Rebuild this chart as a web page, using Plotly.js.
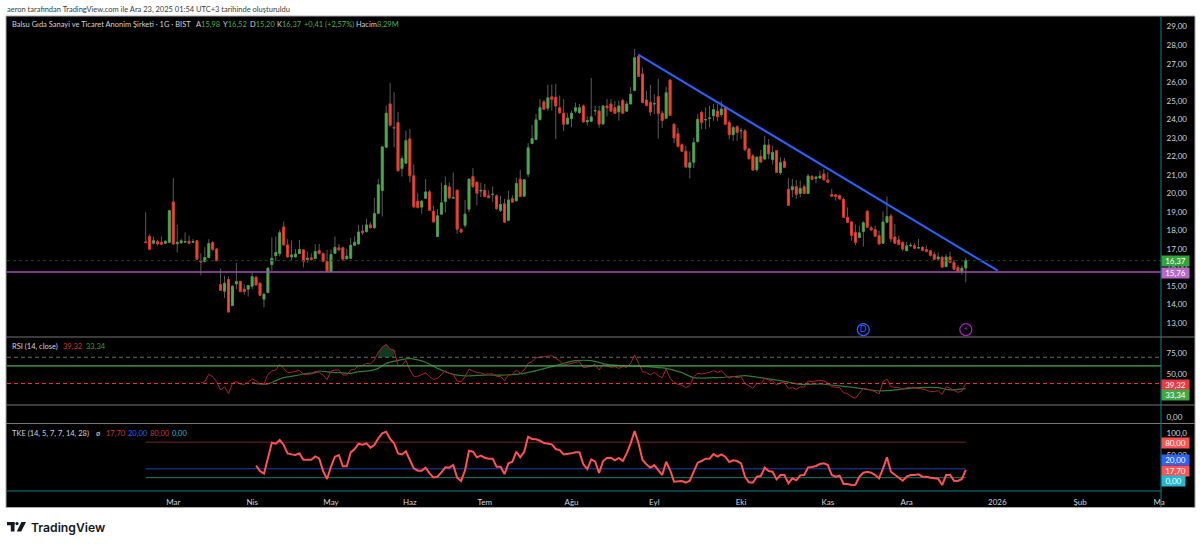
<!DOCTYPE html>
<html><head><meta charset="utf-8">
<script src="https://cdn.plot.ly/plotly-3.0.0.min.js"></script>
<style>html,body{margin:0;padding:0;background:#fff;overflow:hidden}#c{width:1200px;height:545px}</style>
</head><body><div id="c"></div>
<script>
const open=[17.38,17.67,17.31,17.40,17.36,17.31,17.36,19.54,17.29,17.33,
17.37,17.42,17.36,17.44,16.37,16.32,16.54,17.35,17.00,15.08,
14.72,15.35,13.95,15.12,15.24,14.83,14.83,14.99,15.47,15.15,
14.29,14.65,16.16,16.64,16.75,18.19,17.22,16.57,16.57,16.75,
16.95,16.43,16.52,16.48,16.91,16.75,16.34,15.78,16.77,17.06,
17.06,16.47,16.50,17.20,17.27,17.96,17.94,18.30,18.15,18.93,
20.16,22.49,24.83,23.56,23.82,21.34,21.63,22.94,20.95,19.58,
19.26,19.74,20.08,19.04,17.67,18.88,19.56,20.35,19.74,20.17,
18.05,18.28,19.15,20.91,20.60,20.13,20.17,19.87,19.93,19.87,
19.08,19.44,18.55,19.71,19.60,20.77,19.85,21.04,22.69,22.91,
23.99,24.94,24.60,25.21,25.19,24.62,24.33,23.75,24.04,24.44,
24.36,24.72,23.86,23.90,24.45,24.45,23.75,24.72,24.83,24.62,
24.40,25.01,24.44,24.83,25.56,27.39,26.44,25.04,24.91,24.82,
25.22,24.32,24.05,26.12,23.73,23.22,22.63,22.27,21.40,21.68,
22.79,24.37,23.96,24.05,24.19,24.43,24.25,24.61,23.82,23.17,
23.60,23.37,23.38,22.40,22.03,21.28,22.00,21.85,22.61,21.82,
22.30,21.12,21.73,20.22,20.20,20.36,20.00,20.36,20.00,20.92,
20.80,20.83,21.05,20.72,19.93,19.92,19.88,19.67,18.71,18.46,
17.89,17.62,17.94,19.04,18.14,18.05,17.72,17.31,18.44,18.78,
17.65,17.49,17.35,16.91,17.18,17.18,17.05,17.09,16.97,16.90,
16.70,16.46,16.55,16.05,16.57,16.28,16.00,15.80,15.98];
const high=[18.98,17.78,17.67,17.50,17.67,17.45,19.10,20.83,18.30,17.55,
17.90,17.72,17.54,17.49,16.77,17.10,17.53,17.42,17.06,15.94,
15.56,15.51,15.03,16.25,15.30,15.10,15.06,15.73,15.55,15.20,
14.65,16.03,17.63,17.67,18.03,18.48,17.53,17.47,16.99,17.49,
17.00,16.86,16.77,17.26,17.27,16.82,16.95,16.97,17.67,17.27,
17.13,17.00,17.60,17.69,18.30,18.30,18.62,18.44,19.76,20.78,
22.55,24.74,25.95,25.46,24.40,22.04,23.39,23.48,21.56,20.00,
19.65,20.78,20.19,19.33,19.15,20.59,20.91,20.60,21.13,20.21,
18.13,19.65,20.80,21.36,20.66,20.57,20.51,20.16,20.37,19.94,
19.87,19.71,20.14,19.89,20.84,21.27,20.77,22.71,23.70,24.29,
25.10,25.05,25.87,25.87,25.91,25.28,25.10,24.33,24.47,24.90,
24.83,24.80,24.15,26.23,24.72,24.72,24.78,25.10,25.08,24.98,
25.01,25.10,24.98,25.73,27.79,27.48,26.80,25.54,25.85,25.36,
26.19,24.46,25.76,26.15,23.78,23.53,22.70,22.56,22.27,22.99,
24.28,24.46,24.64,24.73,24.82,24.82,25.00,24.70,23.92,23.64,
23.67,23.53,23.47,22.45,22.12,22.02,22.34,23.11,22.93,22.57,
22.34,21.95,21.91,20.83,20.78,20.72,20.69,20.47,21.05,20.99,
20.96,21.23,21.32,21.14,20.24,19.97,19.94,19.79,19.25,18.50,
18.32,18.26,18.50,19.07,18.26,18.26,18.00,19.02,19.83,18.89,
18.35,17.72,17.42,17.38,17.35,17.31,17.54,17.15,17.18,16.95,
16.86,16.82,16.64,16.73,16.86,16.41,16.14,16.10,16.52];
const low=[17.30,16.95,17.24,17.20,17.20,17.27,17.31,17.24,16.81,17.29,
17.33,17.29,17.33,16.41,15.58,16.28,16.50,16.91,16.34,14.76,
14.36,13.57,13.91,14.83,14.67,14.54,14.43,14.83,15.03,14.47,
13.86,14.61,15.83,16.34,16.59,17.18,16.54,16.37,16.54,16.72,
16.00,16.25,16.37,16.45,16.72,16.28,15.74,15.74,16.73,16.91,
16.34,16.43,16.46,17.17,17.24,17.76,17.88,18.12,18.10,18.89,
18.75,22.46,23.61,22.49,21.18,20.91,21.59,20.59,19.24,19.18,
18.90,19.71,19.06,18.43,17.64,18.84,18.97,19.69,19.74,17.82,
17.87,18.14,18.99,20.30,19.36,19.80,19.80,19.72,19.53,19.11,
18.99,18.41,18.52,19.49,19.56,19.80,19.81,20.87,22.66,22.87,
23.93,24.51,24.44,24.47,22.93,24.29,23.36,23.72,23.57,24.33,
24.29,23.82,23.66,23.84,24.20,23.54,23.72,24.15,24.40,24.29,
23.93,24.29,24.40,24.80,25.52,26.28,24.86,24.70,24.18,24.28,
22.95,23.53,24.01,24.18,22.70,22.48,22.23,21.39,20.81,21.37,
22.75,23.47,23.47,23.56,23.92,23.89,24.10,23.69,22.92,22.84,
22.84,22.93,22.30,21.84,21.23,21.17,21.66,21.82,21.85,21.55,
21.10,20.99,21.37,19.32,19.79,19.71,19.79,19.97,19.97,20.70,
20.54,20.78,20.69,20.58,19.79,19.61,19.68,18.68,18.39,17.45,
17.20,17.58,17.13,18.14,17.99,17.67,17.24,17.27,18.39,17.36,
17.27,17.20,16.88,16.88,17.09,17.00,17.04,16.88,16.82,16.59,
16.41,16.41,15.98,16.02,16.23,15.87,15.73,15.62,15.20];
const close=[17.36,16.99,17.45,17.27,17.26,17.42,19.07,17.27,17.36,17.44,
17.40,17.31,17.40,16.45,16.30,16.54,17.29,16.97,16.37,14.77,
15.15,13.60,14.99,15.24,14.70,14.70,15.03,15.51,15.06,14.50,
14.56,15.96,16.50,16.81,17.88,17.22,16.57,16.68,16.73,16.97,
16.34,16.50,16.43,16.86,16.75,16.34,15.78,16.70,17.09,16.95,
16.45,16.61,17.20,17.36,17.92,17.88,18.30,18.15,18.91,20.47,
22.51,24.33,23.68,23.53,21.22,21.88,22.85,20.95,19.27,19.24,
19.58,20.08,19.09,18.46,18.79,19.49,20.43,19.76,19.78,18.07,
17.91,18.88,20.77,20.37,20.01,20.16,19.83,19.78,19.95,19.18,
19.40,18.45,19.65,19.53,20.53,19.83,20.73,22.46,22.96,23.97,
24.63,24.54,25.16,25.07,24.72,24.35,23.73,24.06,24.33,24.62,
24.62,23.86,23.93,24.13,24.47,23.73,24.72,24.62,24.44,24.33,
24.72,24.33,24.83,25.35,27.32,26.32,24.90,24.75,24.39,24.85,
24.32,23.94,25.43,24.21,22.99,22.54,22.27,21.42,21.66,22.74,
24.00,23.83,23.99,24.07,24.52,24.14,24.55,23.73,23.17,23.55,
23.29,23.39,22.36,21.87,21.26,21.95,21.69,22.61,22.13,22.21,
21.14,21.66,21.41,19.36,20.36,19.95,20.27,20.00,20.94,20.76,
20.88,20.94,20.74,20.60,19.85,19.83,19.70,18.71,18.44,17.74,
17.35,17.87,18.41,18.17,18.03,17.69,17.27,18.46,18.75,17.54,
17.31,17.24,17.00,17.17,17.20,17.04,17.07,16.93,16.86,16.66,
16.45,16.57,16.02,16.57,16.27,15.91,15.78,15.96,16.37];
const rsi=[40.2,41.4,50,47.3,41.4,31.6,35.5,27.4,39.5,41.4,38.7,38.3,40.6,44.9,42.2,38.7,38.3,50,53.9,55.1,61.7,57,52.3,52.3,53.1,54.7,50,50,50.4,53.5,52.3,49.2,43.8,53.9,55.1,55.1,49.2,49.2,55.1,55.9,60.2,60.2,62.9,62.1,66.8,75.8,82,85.2,79.7,78.5,60.2,
60.2,66.4,55.1,47.7,47.7,49.2,51.6,47.3,44.1,45.3,49.2,53.9,51.2,50,42.2,41.4,47.3,55.9,53.9,52,51.6,50,50.4,50.8,47.3,47.7,42.6,49.2,50,55.1,51.2,55.1,62.9,64.9,69.5,70.3,70.7,71.9,71.9,68.8,65.6,61,62.1,62.9,63.7,64.9,57.8,58.2,59.4,61.7,55.1,61.7,60.2,58.2,59,57,59,58.2,62.9,72.7,62.9,53.1,52.3,49.2,52.3,48.4,46.1,56.3,45.3,40.6,38.3,37.5,34.4,36.7,47.3,51.2,50.4,51.2,52.3,54.3,52.3,53.9,49.2,45.3,47.7,46.1,47.3,39.1,36.7,33.6,39.5,38.7,45.3,43.4,42.6,37.5,40.2,40.2,33.6,34.4,32.4,
35.5,34.8,42.2,41.4,42.2,43,42.2,40.2,35.5,34.8,34.4,28.5,27.4,23.8,21.9,27.7,33.6,32.8,31.6,29.7,27,41.4,44.5,35.5,34.8,34.4,32.8,34.4,34.8,34.4,33.6,32.8,31.6,29.7,29.7,30.9,26.6,35.5,33.6,30.9,28.9,30.5,39.32];
const rsiMaIndex=[27,29,31,33,35,38,40,43,44,47,49,52,54,57,59,61,64,67,71,74,76,78,81,86,90,94,98,103,106,109,113,117,122,127,132,136,139,145,149,152,156,161,166,171,174,180,186,192,196,201,204,208];
const rsiMa=[40.2,38.7,38.7,42.6,46.1,48.4,50.4,52,53.9,52.3,52,51.2,53.1,54.3,57,62.9,66.4,68.8,64.1,57,53.1,50,48.1,49.2,49.2,50,53.1,59,62.9,66,66,61.7,59.8,59,57,52,46.1,46.1,47.3,48.4,46.1,42.6,38.3,38.7,37.5,34.4,30.5,32.8,34.4,34.4,31.7,33.34];
const tke=[27,15,9,43.5,78.8,76.6,84.8,73.6,54.8,52.5,51,54.8,40.5,40.5,40.5,48,43.5,15,-3,24.8,47.3,51,25.5,25.5,57,64.6,76.6,74.3,77.3,67.6,73.6,88.6,99.9,103.6,87.1,77.3,54.8,
52.5,59.3,39.8,21,15.7,15.7,22.5,9.7,0.7,2.2,12,23.3,22.5,28.5,0,-7.5,17.2,60.8,58.5,45.8,49.5,45,42.8,42.8,24.8,24.8,8.2,32.3,36,58.5,45.8,58.5,92.3,87.1,86.3,83.3,78.1,76.6,75.1,64.6,62.3,52.5,53.3,54.8,57,57,30,19.5,41.3,36,10.5,37.5,44.3,45,39,44.3,37.5,54.8,77.3,105.1,77.3,39.8,30,22.5,28.5,17.2,6,36,17.2,-9,-9,-7.5,-11.3,-6.8,13.5,33.8,37.5,42.8,42.8,53.3,47.3,52.5,47.3,35.3,39,37.5,32.3,2.2,-10.5,-11.3,2.2,3.7,22.5,15,13.5,-3.8,6,6,-12.8,-1.5,-6,
5.2,6,23.3,24,26.3,30.8,32.3,28.5,6,2.2,4.5,-14.3,-14.3,-16.6,-15.8,2.2,11.2,13.5,11.2,6,-1.5,21,45.8,13.5,6,0,-6.8,2.2,6,6,7.5,2.2,2.2,0,-1.5,-2.3,-16.6,6,6.7,-6.8,-7.5,-3,17.7];
const monthTickIndex=[7,27,47,67,86,108,129,151,173,193,216,237,257];
const monthTickText=['Mar','Nis','May','Haz','Tem','Ağu','Eyl','Eki','Kas','Ara','2026','Şub','Ma'];
const trendIndex=[124.9,216.1];
const trendPrice=[27.49,15.83];
const lastPrice=16.37, supportPrice=15.76;
const rsiLevels=[70,60,39.32];
const tkeLevels=[80,20,0];

const FONT='Lato, "Noto Sans", sans-serif';
const GREEN='#4caf50', RED='#f23645', TXT='#d1d4dc';
const W=1200,H=545,L=7,R=1161,T=17,B=507;
const px=x=>(x-L)/(R-L), py=y=>(B-y)/(B-T);
const idx=open.map((_,i)=>i);
const tail=a=>idx.slice(idx.length-a.length);
const rsiX=tail(rsi), tkeX=tail(tke);
const xEnds=[0,idx.length-1];
const bodyHigh=open.map((o,i)=>Math.max(o,close[i]));
const bodyLow=open.map((o,i)=>Math.min(o,close[i]));
const obX=rsiX.filter((x,k)=>x<70&&rsi[k]>70), obY=rsi.filter((v,k)=>rsiX[k]<70&&v>70);

const traces=[
 {type:'candlestick',x:idx,open:open,high:high,low:low,close:close,width:0.1,whiskerwidth:0,
  increasing:{line:{color:'#5c5c5c',width:1},fillcolor:'#5c5c5c'},
  decreasing:{line:{color:'#5c5c5c',width:1},fillcolor:'#5c5c5c'},hoverinfo:'skip',showlegend:false},
 {type:'candlestick',x:idx,open:open,high:bodyHigh,low:bodyLow,close:close,width:0.72,whiskerwidth:0,
  increasing:{line:{color:'#3da843',width:0.6},fillcolor:'#4caf50'},
  decreasing:{line:{color:'#ee2a1c',width:0.8},fillcolor:'#f2503c'},hoverinfo:'skip',showlegend:false},
 {type:'scatter',mode:'lines',x:trendIndex,y:trendPrice,line:{color:'#2962ff',width:2},showlegend:false},
 {type:'scatter',mode:'markers+text',x:[182],y:[12.65],text:['D'],textposition:'middle center',
  textfont:{color:'#2962ff',size:9,family:FONT},marker:{size:12,color:'rgba(0,0,0,0)',line:{color:'#2962ff',width:1.3}},showlegend:false},
 {type:'scatter',mode:'markers+text',x:[208],y:[12.65],text:['⚡'],textposition:'middle center',
  textfont:{color:'#9c27b0',size:9,family:'DejaVu Sans'},marker:{size:12,color:'rgba(0,0,0,0)',line:{color:'#9c27b0',width:1.3}},showlegend:false},
 {type:'scatter',mode:'lines',x:obX,y:obX.map(()=>70),yaxis:'y2',line:{width:0},showlegend:false},
 {type:'scatter',mode:'lines',x:obX,y:obY,yaxis:'y2',fill:'tonexty',fillcolor:'rgba(30,110,50,.55)',line:{width:0},showlegend:false},
 {type:'scatter',mode:'lines',x:rsiMaIndex,y:rsiMa,yaxis:'y2',line:{color:'#2e7d32',width:1.2,shape:'spline',smoothing:.6},showlegend:false},
 {type:'scatter',mode:'lines',x:rsiX,y:rsi,yaxis:'y2',line:{color:'#b21f30',width:1},showlegend:false},
 {type:'scatter',mode:'lines',x:xEnds,y:[tkeLevels[0],tkeLevels[0]],yaxis:'y3',line:{color:'#7d2226',width:1},showlegend:false},
 {type:'scatter',mode:'lines',x:xEnds,y:[tkeLevels[1],tkeLevels[1]],yaxis:'y3',line:{color:'#1f42b4',width:1},showlegend:false},
 {type:'scatter',mode:'lines',x:xEnds,y:[tkeLevels[2],tkeLevels[2]],yaxis:'y3',line:{color:'#1a7a74',width:1},showlegend:false},
 {type:'scatter',mode:'lines',x:tkeX,y:tke,yaxis:'y3',line:{color:'#ff5252',width:2},showlegend:false}
];

const hline=(yref,v,color,width,dash)=>({type:'line',xref:'paper',yref:yref,x0:0,x1:1,y0:v,y1:v,line:{color,width,dash:dash||'solid'},layer:'above'});
const pline=(x0,y0,x1,y1,color,width)=>({type:'line',xref:'paper',yref:'paper',x0:px(x0),x1:px(x1),y0:py(y0),y1:py(y1),line:{color,width},layer:'above'});
const shapes=[
 {type:'rect',xref:'paper',yref:'paper',x0:px(6),x1:px(1195),y0:py(16),y1:py(507.5),fillcolor:'#000',line:{color:'#a8a8a8',width:1},layer:'below'},
 hline('y',lastPrice,'#14471e',1,'dot'),
 hline('y',supportPrice,'#a24fb4',1.6),
 hline('y2',rsiLevels[0],'#6a6a6a',1,'4px,3px'),
 hline('y2',rsiLevels[1],'#4caf50',1.2),
 hline('y2',rsiLevels[2],'#ff2b3a',1,'4px,3px'),
 pline(6,337,1195,337,'#777',1.2),
 pline(6,405,1195,405,'#777',1.2),
 pline(6,423.5,1195,423.5,'#777',1.2),
 pline(7,491,1161,491,'#12808f',1),
 pline(1161,17,1161,507,'#12808f',1),
 // TradingView logo
 {type:'rect',xref:'paper',yref:'paper',x0:px(7),x1:px(14.5),y0:py(522),y1:py(525.3),fillcolor:'#131722',line:{width:0},layer:'above'},
 {type:'rect',xref:'paper',yref:'paper',x0:px(10.8),x1:px(14.5),y0:py(522),y1:py(531.5),fillcolor:'#131722',line:{width:0},layer:'above'},
 {type:'circle',xref:'paper',yref:'paper',x0:px(15.4),x1:px(18.6),y0:py(522),y1:py(525.2),fillcolor:'#131722',line:{width:0},layer:'above'},
 {type:'path',xref:'paper',yref:'paper',path:`M${px(21.4)},${py(522)} L${px(26)},${py(522)} L${px(21.2)},${py(531.5)} L${px(16.8)},${py(531.5)} Z`,fillcolor:'#131722',line:{width:0},layer:'above'}
];

const note=(x,y,text,color,size,extra)=>Object.assign({xref:'paper',yref:'paper',x:px(x),y:py(y),text:text,showarrow:false,xanchor:'left',yanchor:'middle',
  font:{family:FONT,size:size||7.5,color:color||TXT},borderpad:0},extra||{});
const badge=(y,text,bg,w)=>note(1161,y,text,'#fff',8,{bgcolor:bg,width:w||27,height:10,align:'center'});
const G=s=>`<span style="color:${GREEN}">${s}</span>`;
const annotations=[
 note(6,9,'aeron tarafından TradingView.com ile Ara 23, 2025 01:54 UTC+3 tarihinde oluşturuldu','#3a3a3a',7.5),
 note(11,25,'Balsu Gıda Sanayi ve Ticaret Anonim Şirketi · 1G · BIST',TXT,7.5),
 note(195,25,'A'+G('15,98')),note(222,25,'Y'+G('16,52')),note(249,25,'D'+G('15,20')),note(276,25,'K'+G('16,37')),
 note(303,25,G('+0,41 (+2,57%)')),note(355,25,'Hacim'+G('8,29M')),
 note(11,346.5,'RSI (14, close)',TXT),note(62,346.5,'39,32','#d0343f'),note(85,346.5,'33,34','#3b9a40'),
 note(11,433,'TKE (14, 5, 7, 7, 14, 28)',TXT),note(95,433,'ø',TXT),note(105,433,'17,70','#d0343f'),note(127,433,'20,00','#2962ff'),note(149,433,'80,00','#d0343f'),note(171,433,'0,00','#22b8cf'),
 note(30,527,'TradingView','#131722',12.2,{font:{family:'"Inter",sans-serif',size:12.2,color:'#131722',weight:600}}),
 badge(260.5,'16,37','#2fa53b'),badge(272.5,'15,76','#b868c8'),
 badge(385,'39,32','#f23645'),badge(395,'33,34','#3fa845'),
 badge(443,'80,00','#ff5252'),badge(460,'20,00','#2962ff'),badge(470.5,'17,70','#ff5252'),badge(480.5,'0,00','#22b8cf',23)
];

const axisY=(extra)=>Object.assign({side:'right',anchor:'x',showgrid:false,zeroline:false,showline:false,
  ticks:'outside',ticklen:3,tickcolor:'rgba(0,0,0,0)',tickfont:{family:FONT,size:8,color:TXT},tickformat:'.2f',fixedrange:true},extra);
const layout={
 width:W,height:H,margin:{l:L,r:W-R,t:T,b:H-B,pad:0},
 paper_bgcolor:'#fff',plot_bgcolor:'rgba(0,0,0,0)',showlegend:false,separators:',.',
 xaxis:{domain:[0,1],range:[-35.17,257.5],anchor:'y3',showgrid:false,zeroline:false,showline:false,
  tickmode:'array',tickvals:monthTickIndex,ticktext:monthTickText,ticks:'outside',ticklen:3,tickcolor:'rgba(0,0,0,0)',
  tickfont:{family:FONT,size:8,color:TXT},tickangle:0,rangeslider:{visible:false},fixedrange:true},
 yaxis:axisY({domain:[py(337),py(17)],range:[12.25,29.52],tickmode:'array',tickvals:[13,14,15,16,17,18,19,20,21,22,23,24,25,26,27,28,29]}),
 yaxis2:axisY({domain:[py(423),py(338)],range:[-7.03,92.6],tickmode:'array',tickvals:[0,50,75]}),
 yaxis3:axisY({domain:[py(491),py(424)],range:[-30,120.9],tickmode:'array',tickvals:[50,100],ticktext:['50,00','100,0']}),
 shapes:shapes,annotations:annotations
};
Plotly.newPlot('c',traces,layout,{staticPlot:true,displayModeBar:false,responsive:false});
</script></body></html>
